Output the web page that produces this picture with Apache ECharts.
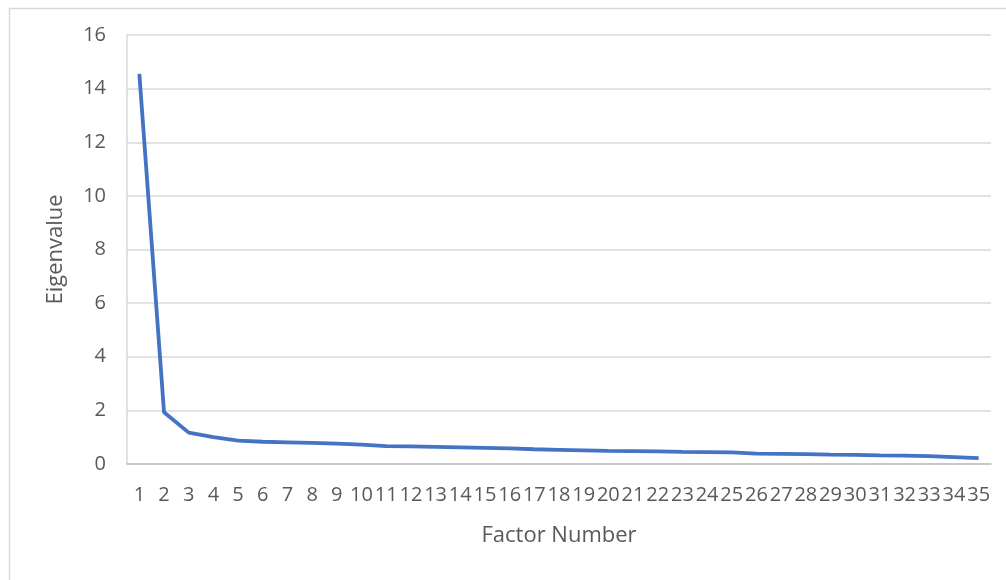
<!DOCTYPE html>
<html>
<head>
<meta charset="utf-8">
<script src="https://cdn.jsdelivr.net/npm/echarts@6/dist/echarts.min.js"></script>
<style>
  html, body { margin: 0; padding: 0; background: #fff; }
  #main { width: 1006px; height: 580px; }
</style>
</head>
<body>
<div id="main"></div>
<script>
var factors = [];
for (var i = 1; i <= 35; i++) factors.push(String(i));

// eigenvalues
var eigenvalues = [
    14.55, 1.93, 1.17, 1.0, 0.87, 0.83, 0.81, 0.79, 0.76, 0.72,
    0.67, 0.66, 0.64, 0.62, 0.60, 0.58, 0.55, 0.53, 0.51, 0.49,
    0.48, 0.47, 0.45, 0.44, 0.43, 0.39, 0.38, 0.37, 0.35, 0.34,
    0.32, 0.31, 0.29, 0.26, 0.22
];

var yTicks = { min: 0, max: 16, interval: 2 };

var font = '"Open Sans", "Noto Sans", sans-serif';

var myChart = echarts.init(document.getElementById('main'), null, { renderer: 'canvas' });

var option = {
    backgroundColor: '#fff',
    animation: false,
    grid: { left: 127, right: 15, top: 35, bottom: 116 },
    graphic: [{
        type: 'rect',
        left: 7, top: 6,
        shape: { width: 1010, height: 590 },
        style: { fill: 'none', stroke: '#d9d9d9', lineWidth: 1.5 },
        silent: true
    }],
    xAxis: {
        type: 'category',
        data: factors,
        boundaryGap: true,
        name: 'Factor Number',
        nameLocation: 'middle',
        nameGap: 61,
        nameTextStyle: { color: '#595959', fontSize: 22, fontFamily: font },
        axisLine: { show: true, lineStyle: { color: '#bfbfbf', width: 1.5 } },
        axisTick: { show: false },
        axisLabel: { interval: 0, color: '#595959', fontSize: 20, fontFamily: font, margin: 21 },
        splitLine: { show: false }
    },
    yAxis: {
        type: 'value',
        min: yTicks.min,
        max: yTicks.max,
        interval: yTicks.interval,
        name: 'Eigenvalue',
        nameLocation: 'middle',
        nameGap: 60,
        nameRotate: 90,
        nameTextStyle: { color: '#595959', fontSize: 22, fontFamily: font },
        axisLine: { show: true, lineStyle: { color: '#d9d9d9', width: 1.5 } },
        axisTick: { show: false },
        axisLabel: { color: '#595959', fontSize: 20, fontFamily: font, margin: 21 },
        splitLine: { show: true, lineStyle: { color: '#d9d9d9', width: 1.5 } }
    },
    series: [{
        type: 'line',
        data: eigenvalues,
        showSymbol: false,
        symbol: 'none',
        lineStyle: { color: '#4472c4', width: 3.8 },
        itemStyle: { color: '#4472c4' }
    }]
};

myChart.setOption(option);
window.addEventListener('resize', myChart.resize);
</script>
</body>
</html>
